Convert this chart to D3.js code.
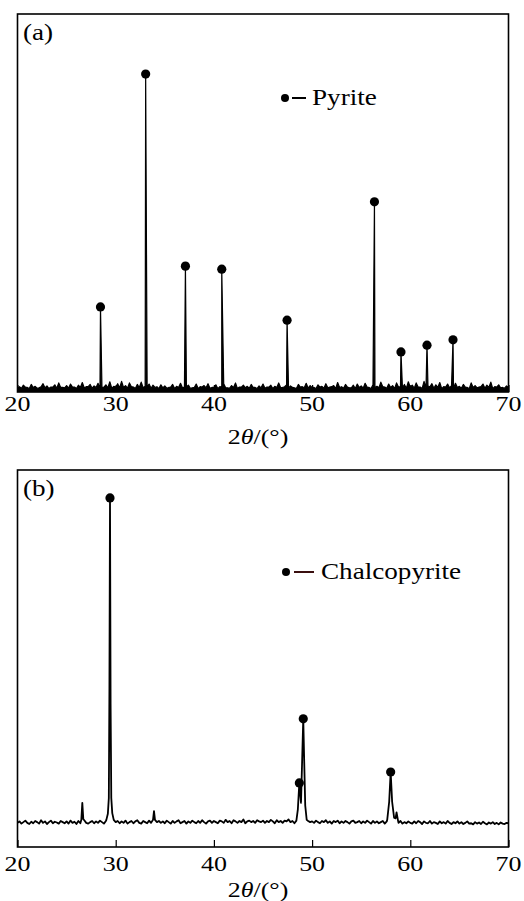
<!DOCTYPE html>
<html><head><meta charset="utf-8">
<script src="https://cdn.jsdelivr.net/npm/d3@7"></script>
<style>body{margin:0;background:#fff}</style>
</head><body>
<svg id="c" width="524" height="901"></svg>
<script>
// ---------- data ----------
const xTicks = [20, 30, 40, 50, 60, 70];
const gridStart = 20, gridStep = 0.2;
const panelLabels = ["(a)", "(b)"];
const legendNames = ["Pyrite", "Chalcopyrite"];

// Panel (a): baseline noise (20..70 step 0.2) and sharp pyrite peaks
const noiseA = [
11,14,10,18,13,12,9,20,12,15,10,11,14,22,11,16,9,13,13,19,10,24,12,12,11,
17,10,21,13,13,9,18,12,25,11,14,14,20,10,16,12,23,9,12,13,19,11,27,10,15,
13,22,11,28,12,17,10,24,14,13,9,20,12,26,11,15,13,21,10,18,12,14,9,19,11,
16,10,12,13,20,9,15,12,23,11,13,14,18,10,11,12,21,9,14,13,17,11,22,10,12,
12,19,9,14,13,22,11,11,10,17,12,24,9,13,13,18,11,15,10,20,12,12,9,16,11,
21,10,13,13,18,9,15,12,24,11,12,14,19,10,16,12,11,9,20,13,14,11,23,10,17,
12,12,9,19,13,15,10,22,11,13,14,17,9,25,12,14,10,20,13,11,11,18,9,21,12,
16,10,23,13,12,9,19,12,15,11,26,14,13,10,21,12,17,9,24,13,14,11,20,10,27,
12,18,10,24,13,13,9,28,11,16,14,22,10,19,12,25,9,14,13,21,11,17,10,23,12,
15,10,20,13,12,9,24,12,17,11,13,14,21,10,18,12,26,9,14,13,19,11,12,10,16,
12];
const peakAngleA  = [28.45, 33.05, 37.1, 40.8, 47.45, 56.35, 59.05, 61.7, 64.35];
const peakHeightA = [225,   841,   333,  325,  190,   503,   106,   124,  138];

// Panel (b): baseline noise and chalcopyrite peak profiles
const noiseB = [
64,68,62,66,70,64,61,67,63,69,66,62,71,64,68,61,66,70,63,67,65,62,69,66,63,
68,62,70,64,67,61,69,63,67,71,64,62,66,69,63,68,64,70,66,62,69,64,68,63,71,
66,69,63,68,64,70,62,66,69,63,68,71,64,62,69,66,63,70,64,68,62,66,69,64,68,
63,70,66,62,69,64,68,71,63,66,69,62,68,64,70,66,63,69,64,71,66,62,68,70,64,
69,66,63,70,68,64,72,66,69,63,71,68,64,69,66,73,63,68,70,66,69,64,71,68,66,
70,64,69,66,72,68,63,71,66,69,64,70,68,73,66,69,63,71,68,64,70,66,72,69,66,
68,64,70,66,63,69,66,71,64,68,62,69,66,70,63,68,64,69,66,62,68,70,64,66,69,
63,68,64,70,66,62,69,64,68,63,66,69,62,68,64,70,66,63,68,64,69,62,66,63,68,
64,62,68,63,69,66,61,68,64,63,69,62,66,64,61,68,63,66,62,69,64,61,66,63,68,
62,66,61,64,68,62,63,60,66,62,65,61,67,63,60,65,62,66,61,64,60,65,62,61,64,
63];
const profileAngleB = [
  [26.5, 26.6, 26.7],
  [29.05, 29.2, 29.3, 29.36, 29.42, 29.48, 29.55, 29.65, 29.8],
  [33.8, 33.9, 34.0],
  [48.4, 48.55, 48.7, 48.87, 49.1, 49.2, 49.3, 49.45],
  [57.65, 57.85, 58.0, 58.15, 58.35, 58.5, 58.6, 58.75]
];
const profileValueB = [
  [72, 117, 74],
  [72, 88, 130, 420, 926, 380, 130, 90, 72],
  [72, 95, 72],
  [70, 100, 170, 117, 340, 223, 110, 72],
  [72, 120, 199, 120, 78, 76, 92, 70]
];
const markerAngleB = [29.42, 48.7, 49.1, 58.0];
const markerValueB = [926, 170, 340, 199];

// ---------- drawing ----------
const FONT = "'Liberation Serif', Tinos, 'Times New Roman', 'DejaVu Serif', serif";
const SX = 1.18; // horizontal stretch of the original lettering
const svg = d3.select("#c");
const left = 17.5, right = 508.5;
const panels = [
  {top: 14, bottom: 392, tickBase: 411, titleBase: 444, labelY: 40,
   leg: {y: 98, dot: 285, d1: 292, d2: 306, tx: 312},
   noise: noiseA, extra: peakAngleA.map((a,i)=>[a, peakHeightA[i]]), cut: [],
   markers: peakAngleA.map((a,i)=>[a, peakHeightA[i]]), stroke: 1.2, fillBand: true},
  {top: 470, bottom: 847, tickBase: 871, titleBase: 897, labelY: 496,
   leg: {y: 572, dot: 286, d1: 294, d2: 314, tx: 321},
   noise: noiseB,
   extra: profileAngleB.flatMap((g,j)=>g.map((a,i)=>[a, profileValueB[j][i]])),
   cut: profileAngleB.map(g=>[g[0], g[g.length-1]]),
   markers: markerAngleB.map((a,i)=>[a, markerValueB[i]]), stroke: 1.8, fillBand: false}
];

const x = d3.scaleLinear().domain([20, 70]).range([left, right]);

function addText(g, tx, ty, size, anchor) {
  return g.append("text")
    .attr("transform", `translate(${tx},${ty}) scale(${SX},1)`)
    .attr("text-anchor", anchor).attr("font-family", FONT).attr("font-size", size)
    .attr("fill", "#000");
}

panels.forEach((p, k) => {
  const y = d3.scaleLinear().domain([0, 1000]).range([p.bottom, p.top]);
  const g = svg.append("g");

  const grid = p.noise.map((v,i)=>[gridStart + i*gridStep, v])
    .filter(d => !p.cut.some(c => d[0] >= c[0] && d[0] <= c[1]));
  const pts = grid.concat(p.extra).sort((a,b)=>a[0]-b[0]);

  if (p.fillBand) {
    g.append("path").datum(pts).attr("fill", "#000")
      .attr("d", d3.area().x(d=>x(d[0])).y0(y(0)).y1(d=>y(d[1])));
  }
  g.append("path").datum(pts)
    .attr("fill","none").attr("stroke","#000")
    .attr("stroke-width", p.stroke).attr("stroke-linejoin","round")
    .attr("d", d3.line().x(d=>x(d[0])).y(d=>y(d[1])));

  g.selectAll("circle.m").data(p.markers).join("circle")
    .attr("class","m").attr("cx", d=>x(d[0])).attr("cy", d=>y(d[1]))
    .attr("r", 4.6).attr("fill","#000");

  // axis with inward ticks
  const ax = g.append("g").attr("transform", `translate(0,${p.bottom})`)
    .call(d3.axisBottom(x).tickValues(xTicks).tickSizeInner(-7).tickSizeOuter(0).tickFormat(d3.format("d")));
  ax.select(".domain").remove();
  ax.selectAll("line").attr("stroke","#000").attr("stroke-width",1.2);
  ax.selectAll("text").remove();
  xTicks.forEach(v => addText(g, x(v), p.tickBase, 22, "middle").text(v));

  // frame
  g.append("rect").attr("x", left).attr("y", p.top)
    .attr("width", right-left).attr("height", p.bottom-p.top)
    .attr("fill","none").attr("stroke","#000").attr("stroke-width",1.6);

  // axis title
  const t = addText(g, 258, p.titleBase, 22, "middle");
  t.append("tspan").text("2");
  t.append("tspan").attr("font-style","italic").text("θ");
  t.append("tspan").text("/(°)");

  // panel label
  addText(g, 23, p.labelY, 23, "start").text(panelLabels[k]);

  // legend
  g.append("circle").attr("cx", p.leg.dot).attr("cy", p.leg.y).attr("r", 4).attr("fill","#000");
  g.append("line").attr("x1", p.leg.d1).attr("x2", p.leg.d2).attr("y1", p.leg.y).attr("y2", p.leg.y)
    .attr("stroke", k===0 ? "#000" : "#3a0f0f").attr("stroke-width", 2);
  addText(g, p.leg.tx, p.leg.y + 7, 23, "start").text(legendNames[k]);
});
</script>
</body></html>
